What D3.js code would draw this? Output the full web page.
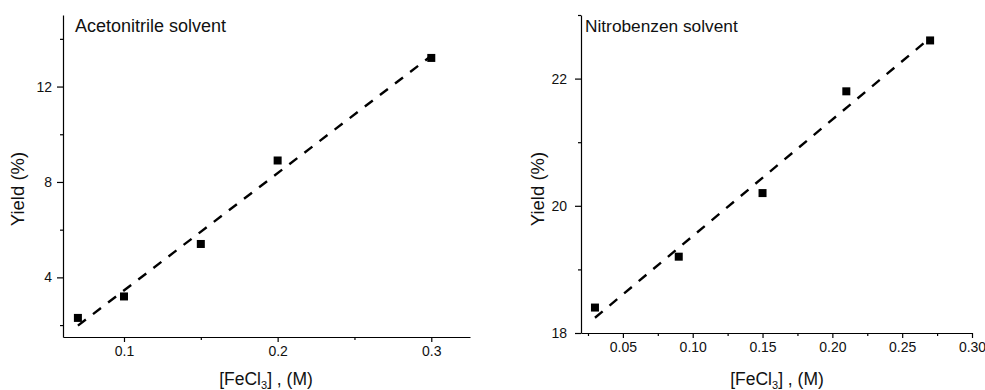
<!DOCTYPE html>
<html>
<head>
<meta charset="utf-8">
<script src="https://cdn.jsdelivr.net/npm/d3@7"></script>
<style>
  body { margin: 0; background: #fff; }
  svg { display: block; font-family: "Liberation Sans", Arial, sans-serif; }
</style>
</head>
<body>
<svg id="chart" width="985" height="390"></svg>
<script>
// acetonitrile panel
const acnConc = [0.07, 0.1, 0.15, 0.2, 0.3];
const acnYield = [2.3, 3.2, 5.4, 8.9, 13.2];
const acnXTicks = [0.1, 0.2, 0.3];
const acnXMinor = [0.15, 0.25];
const acnYTicks = [4, 8, 12];
const acnYMinor = [2, 6, 10, 14];

// nitrobenzene panel
const nbConc = [0.03, 0.09, 0.15, 0.21, 0.27];
const nbYield = [18.4, 19.2, 20.2, 21.8, 22.6];
const nbXTicks = [0.05, 0.1, 0.15, 0.2, 0.25, 0.3];
const nbXMinor = [0.025, 0.075, 0.125, 0.175, 0.225, 0.275];
const nbYTicks = [18, 20, 22];
const nbYMinor = [19, 21, 23];

const svg = d3.select("#chart");

function linFit(xs, ys) {
  const mx = d3.mean(xs), my = d3.mean(ys);
  let sxy = 0, sxx = 0;
  xs.forEach((x, i) => {
    sxy += (x - mx) * (ys[i] - my);
    sxx += (x - mx) * (x - mx);
  });
  const b = sxy / sxx;
  return (x) => my + b * (x - mx);
}

function drawPanel(p) {
  const x = d3.scaleLinear().domain(p.xDomain).range(p.xRange);
  const y = d3.scaleLinear().domain(p.yDomain).range(p.yRange);
  const g = svg.append("g");

  const bottom = p.yRange[0];
  const left = p.xRange[0];

  // minor ticks
  g.append("g")
    .attr("transform", `translate(0,${bottom})`)
    .call(d3.axisBottom(x).tickValues(p.xMinor).tickSize(3).tickFormat(""))
    .call((a) => a.select(".domain").remove());
  g.append("g")
    .attr("transform", `translate(${left},0)`)
    .call(d3.axisLeft(y).tickValues(p.yMinor).tickSize(3).tickFormat(""))
    .call((a) => a.select(".domain").remove());

  const xAxis = g.append("g")
    .attr("transform", `translate(0,${bottom})`)
    .call(d3.axisBottom(x).tickValues(p.xTicks).tickSize(5).tickSizeOuter(0)
      .tickPadding(4).tickFormat(p.xFormat));
  const yAxis = g.append("g")
    .attr("transform", `translate(${left},0)`)
    .call(d3.axisLeft(y).tickValues(p.yTicks).tickSize(6).tickSizeOuter(0)
      .tickPadding(p.yPad).tickFormat(d3.format("d")));

  g.selectAll(".tick line, .domain").attr("stroke", "#000").attr("stroke-width", 1.2);
  [xAxis, yAxis].forEach((a) =>
    a.selectAll("text").attr("font-size", 14).attr("fill", "#111")
      .attr("font-family", "'Liberation Sans', Arial, sans-serif"));

  // fitted line
  const fit = linFit(p.xs, p.ys);
  const x0 = d3.min(p.xs), x1 = d3.max(p.xs);
  g.append("line")
    .attr("x1", x(x0)).attr("y1", y(fit(x0)))
    .attr("x2", x(x1)).attr("y2", y(fit(x1)))
    .attr("stroke", "#000")
    .attr("stroke-width", 2.4)
    .attr("stroke-dasharray", "10,9");

  // points
  g.selectAll("rect.pt")
    .data(p.xs.map((d, i) => [d, p.ys[i]]))
    .enter()
    .append("rect")
    .attr("class", "pt")
    .attr("x", (d) => x(d[0]) - 4)
    .attr("y", (d) => y(d[1]) - 4)
    .attr("width", 8)
    .attr("height", 8)
    .attr("fill", "#000");

  // panel label
  g.append("text")
    .attr("x", p.labelX)
    .attr("y", 32)
    .attr("font-size", p.labelSize)
    .attr("fill", "#111")
    .text(p.label);

  // y title
  g.append("text")
    .attr("transform", `translate(${p.yTitleX},189) rotate(-90)`)
    .attr("text-anchor", "middle")
    .attr("font-size", 18.5)
    .attr("fill", "#111")
    .text("Yield (%)");

  // x title
  const xt = g.append("text")
    .attr("x", p.xTitleX)
    .attr("y", 385)
    .attr("text-anchor", "middle")
    .attr("font-size", 17.5)
    .attr("fill", "#111");
  xt.append("tspan").text("[FeCl");
  xt.append("tspan").attr("font-size", 11).attr("dy", 4).text("3");
  xt.append("tspan").attr("dy", -4).text("] , (M)");
}

drawPanel({
  xs: acnConc, ys: acnYield,
  xDomain: [0.0603, 0.3252], xRange: [63, 470],
  yDomain: [1.5, 15], yRange: [337, 15],
  xTicks: acnXTicks, xMinor: acnXMinor,
  yTicks: acnYTicks, yMinor: acnYMinor,
  xFormat: d3.format(".1f"), yPad: 5,
  label: "Acetonitrile solvent", labelX: 75, labelSize: 18,
  yTitleX: 24, xTitleX: 266
});

drawPanel({
  xs: nbConc, ys: nbYield,
  xDomain: [0.02, 0.30], xRange: [581, 972],
  yDomain: [18, 23], yRange: [333, 15],
  xTicks: nbXTicks, xMinor: nbXMinor,
  yTicks: nbYTicks, yMinor: nbYMinor,
  xFormat: d3.format(".2f"), yPad: 8,
  label: "Nitrobenzen solvent", labelX: 585, labelSize: 17.3,
  yTitleX: 544, xTitleX: 777
});
</script>
</body>
</html>
